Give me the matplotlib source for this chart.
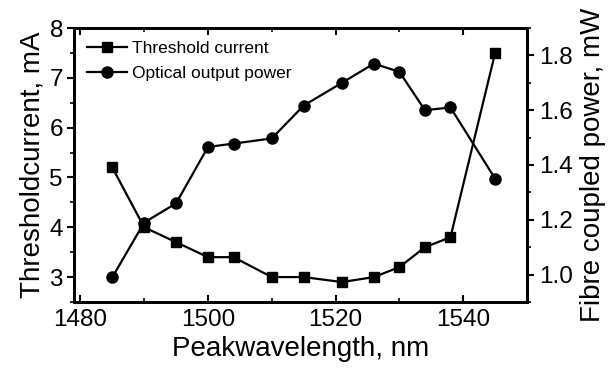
import matplotlib.pyplot as plt

plt.rcParams['font.family'] = ['Liberation Sans', 'DejaVu Sans']

# == Dados ==
comprimento = [1485, 1490, 1495, 1500, 1504, 1510, 1515, 1521, 1526, 1530, 1534, 1538, 1545]
corrente = [5.2, 4.0, 3.7, 3.4, 3.4, 3.0, 3.0, 2.9, 3.0, 3.2, 3.6, 3.8, 7.5]
potencia = [0.99, 1.19, 1.26, 1.466, 1.478, 1.497, 1.617, 1.70, 1.77, 1.74, 1.60, 1.61, 1.35]

fig = plt.figure(figsize=(6.09, 3.69), dpi=100)
ax = fig.add_axes([0.1215, 0.1816, 0.7439, 0.7425])
ax2 = ax.twinx()

l1, = ax.plot(comprimento, corrente, color='black', marker='s', markersize=7,
              linewidth=1.6, label='Threshold current')
l2, = ax2.plot(comprimento, potencia, color='black', marker='o', markersize=8,
               linewidth=1.6, label='Optical output power')

ax.set_xlim(1479, 1550)
ax.set_ylim(2.5, 8)
ax2.set_ylim(0.9, 1.9)

ax.set_xticks([1480, 1500, 1520, 1540])
ax.set_xticks([1490, 1510, 1530], minor=True)
ax.set_yticks([3, 4, 5, 6, 7, 8])
ax.set_yticks([2.5, 3.5, 4.5, 5.5, 6.5, 7.5], minor=True)
ax2.set_yticks([1.0, 1.2, 1.4, 1.6, 1.8])
ax2.set_yticks([0.9, 1.1, 1.3, 1.5, 1.7, 1.9], minor=True)
ax2.set_yticklabels(['1.0', '1.2', '1.4', '1.6', '1.8'])

ax.tick_params(axis='x', which='both', direction='in', top=True, labelsize=17.5, pad=5)
ax.tick_params(axis='x', which='major', length=5, width=1.5)
ax.tick_params(axis='x', which='minor', length=3, width=1.2)
ax.tick_params(axis='y', which='major', direction='out', length=5, width=1.5, labelsize=17.5, pad=3)
ax.tick_params(axis='y', which='minor', direction='out', length=3, width=1.2)
ax2.tick_params(axis='y', which='major', direction='out', length=5, width=1.5, labelsize=17.5, pad=4)
ax2.tick_params(axis='y', which='minor', direction='out', length=3, width=1.2)

for a in (ax, ax2):
    for s in a.spines.values():
        s.set_linewidth(2)

ax.set_xlabel('Peakwavelength, nm', fontsize=20, labelpad=4)
ax.set_ylabel('Thresholdcurrent, mA', fontsize=20, labelpad=3)
ax2.set_ylabel('Fibre coupled power, mW', fontsize=20, labelpad=5)

ax.legend(handles=[l1, l2], loc='upper left', frameon=False, fontsize=12.5,
          handlelength=2.3, handletextpad=0.3, borderaxespad=0.35, labelspacing=0.55)

fig.savefig('out.png', dpi=100)
